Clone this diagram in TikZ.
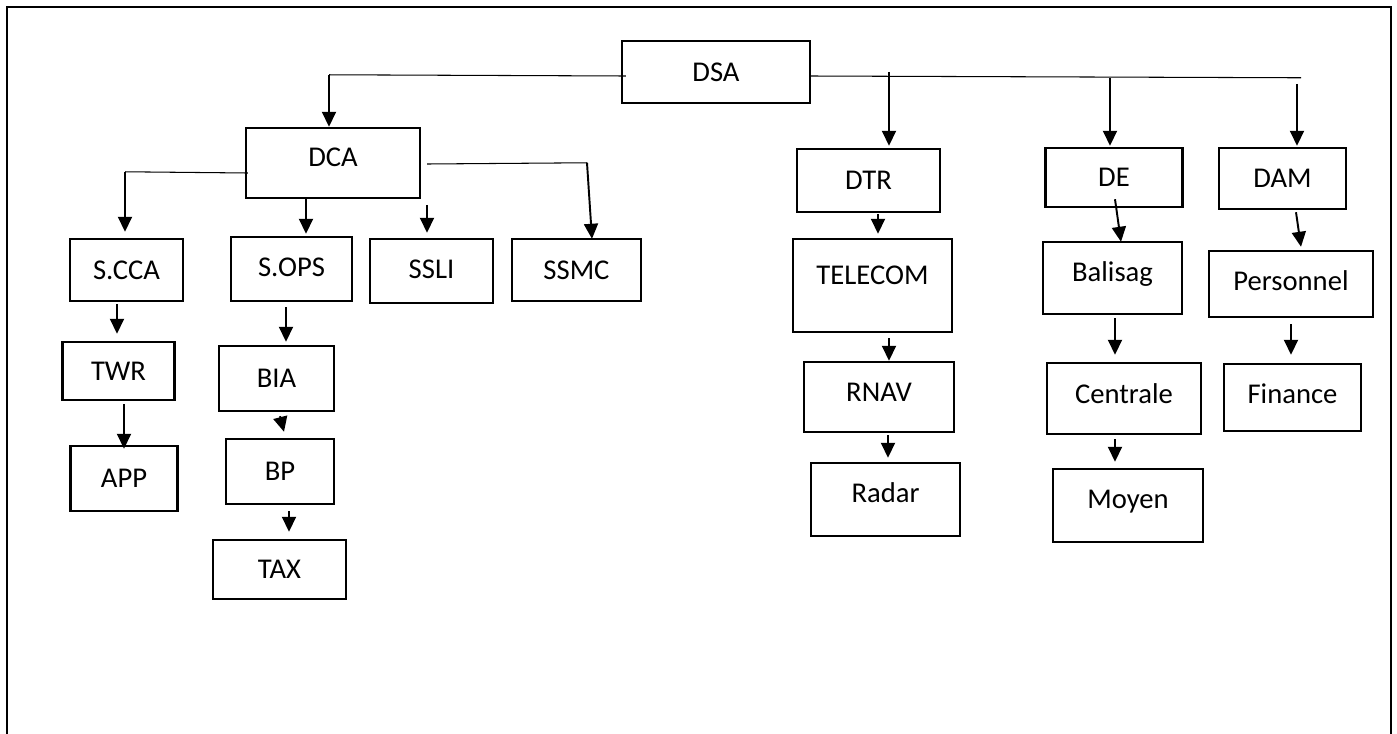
\documentclass[tikz,border=0pt]{standalone}
\usepackage{fontspec}
\setmainfont{Carlito}
\usetikzlibrary{calc,arrows.meta}
\tikzset{
         box/.style={draw, line width=1.4pt, inner sep=0pt,
                     text height=0.37cm, text depth=0pt,
                     font=\fontsize{16.3}{19.6}\selectfont},
         sz/.style 2 args={minimum width=#1*0.02cm, minimum height=#2*0.02cm},
         lift/.style={text depth=#1},
         bus/.style={line width=0.6pt},
         arr/.style={line width=1.1pt, -{Triangle[length=0.3cm,width=0.28cm]}},
         frame/.style={line width=1.5pt}
        }
\begin{document}
\begin{tikzpicture}[x=0.02cm, y=-0.02cm]
      \useasboundingbox (0,0) rectangle (1397,734);
      \draw[frame] (7,734) -- (7,7) -- (1391,7) -- (1391,734); % outer frame
      % boxes
      \node[box,sz={188}{62}] (DSA) at (716,72) {DSA}; % top
      \node[box,sz={174}{70},lift=0.24cm] (DCA) at (333,163) {DCA};
      \node[box,sz={113}{62}] (SCCA) at (126.5,270) {S.CCA};
      \node[box,sz={121}{64},lift=0.08cm] (SOPS) at (291.5,269) {S.OPS};
      \node[box,sz={123}{64},lift=0.08cm] (SSLI) at (431.5,271) {SSLI};
      \node[box,sz={129}{62}] (SSMC) at (576.5,270) {SSMC};
      \node[box,sz={112}{58}] (TWR) at (118.5,371) {TWR};
      \node[box,sz={107}{65}] (APP) at (124,478.5) {APP};
      \node[box,sz={115}{65}] (BIA) at (276.5,378.5) {BIA};
      \node[box,sz={108}{65}] (BP) at (280,471.5) {BP};
      \node[box,sz={133}{59}] (TAX) at (279.5,569.5) {TAX};
      \node[box,sz={143}{63}] (DTR) at (868.5,180.5) {DTR};
      \node[box,sz={159}{93},lift=0.4cm] (TELECOM) at (872.5,285.5) {TELECOM};
      \node[box,sz={150}{70},lift=0.2cm] (RNAV) at (879,397) {RNAV};
      \node[box,sz={149}{73},lift=0.24cm] (Radar) at (885.5,499.5) {Radar};
      \node[box,sz={137}{59}] (DE) at (1114,177.5) {DE};
      \node[box,sz={139}{72},lift=0.24cm] (Balisag) at (1112.5,278) {Balisag};
      \node[box,sz={154}{71},lift=0.16cm] (Centrale) at (1124,398.5) {Centrale};
      \node[box,sz={150}{73},lift=0.24cm] (Moyen) at (1128,505.5) {Moyen};
      \node[box,sz={127}{61}] (DAM) at (1282.5,178.5) {DAM};
      \node[box,sz={164}{66},lift=0.12cm] (Personnel) at (1291,284) {Personnel};
      \node[box,sz={137}{67},lift=0.12cm] (Finance) at (1292.5,397.5) {Finance};
      % DSA branches
      \coordinate (kDCA) at ($(DCA.north)+(-4,-52)$);
      \draw[bus] ($(DSA.west)+(5,4)$) -- (kDCA); % Wiring
      \draw[arr] (kDCA) -- ($(DCA.north)+(-4,0)$);
      \coordinate (busR) at ($(DAM.north)+(18.5,-69)$);
      \draw[bus] ($(DSA.east)+(0,4)$) -- (busR); % Wiring
      \draw[arr] ($(DTR.north)+(20.5,-76)$) -- ($(DTR.north)+(20.5,-2)$);
      \draw[arr] ($(DE.north)+(-4,-69)$) -- ($(DE.north)+(-4,-1)$);
      \draw[arr] ($(DAM.north)+(14.5,-63)$) -- ($(DAM.north)+(14.5,-1)$);
      % DCA branches
      \coordinate (kSCCA) at ($(SCCA.north)+(-1.5,-66)$);
      \draw[bus] ($(DCA.west)+(3,10)$) -- (kSCCA); % Wiring
      \draw[arr] (kSCCA) -- ($(SCCA.north)+(-1.5,-6)$);
      \draw[arr] ($(DCA.south)+(-27,0)$) -- ($(SOPS.north)+(14.5,-2)$);
      \draw[arr] ($(SSLI.north)+(-4.5,-33)$) -- ($(SSLI.north)+(-4.5,-5)$);
      \coordinate (kSSMC) at ($(SSMC.north)+(10.5,-75)$);
      \draw[bus] ($(DCA.east)+(6,1)$) -- (kSSMC); % Wiring
      \draw[arr] (kSSMC) -- ($(SSMC.north)+(15.5,1)$);
      % lower chains
      \draw[arr] ($(SCCA.south)+(-9.5,2)$) -- ($(TWR.north)+(-1.5,-7)$);
      \draw[arr] ($(TWR.south)+(5.5,3)$) -- ($(APP.north)+(0,4)$);
      \draw[arr] ($(SOPS.south)+(-5.5,5)$) -- ($(BIA.north)+(9.5,-3)$);
      \draw[arr] ($(BIA.south)+(3.5,4)$) -- ($(BP.north)+(4,-6)$);
      \draw[arr] ($(BP.south)+(9,6)$) -- ($(TAX.north)+(9.5,-7)$);
      \draw[arr] ($(DTR.south)+(9.5,1)$) -- ($(TELECOM.north)+(5.5,-4)$);
      \draw[arr] ($(TELECOM.south)+(16.5,5)$) -- ($(RNAV.north)+(10,0)$);
      \draw[arr] ($(RNAV.south)+(9,2)$) -- ($(Radar.north)+(2.5,-4)$);
      \draw[arr] ($(DE.south)+(1,-9)$) -- ($(Balisag.north)+(8.5,1)$);
      \draw[arr] ($(Balisag.south)+(2.5,3)$) -- ($(Centrale.north)+(-9,-7)$);
      \draw[arr] ($(Centrale.south)+(-9,4)$) -- ($(Moyen.north)+(-13,-6)$);
      \draw[arr] ($(DAM.south)+(13.5,2)$) -- ($(Personnel.north)+(10,-3)$);
      \draw[arr] ($(Personnel.south)+(0,6)$) -- ($(Finance.north)+(-1.5,-8)$);
\end{tikzpicture}
\end{document}
